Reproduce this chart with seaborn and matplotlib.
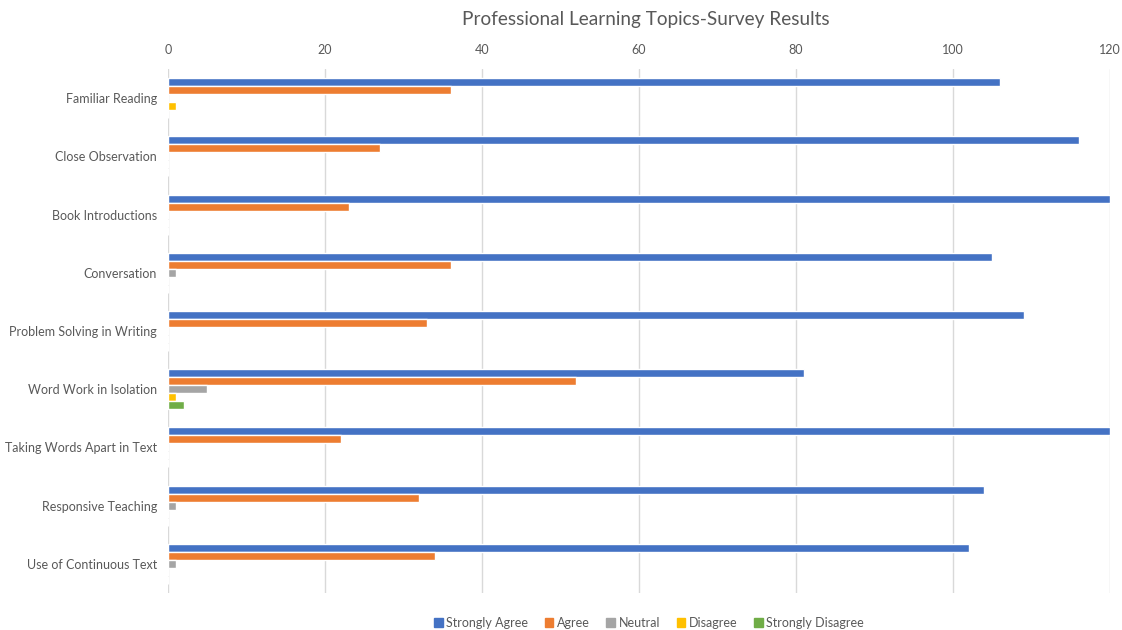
import matplotlib
matplotlib.use("Agg")
import matplotlib.pyplot as plt
import seaborn as sns
import pandas as pd

topics = ["Familiar Reading", "Close Observation", "Book Introductions", "Conversation",
          "Problem Solving in Writing", "Word Work in Isolation", "Taking Words Apart in Text",
          "Responsive Teaching", "Use of Continuous Text"]
strongly_agree = [106, 116, 120, 105, 109, 81, 120, 104, 102]
agree = [36, 27, 23, 36, 33, 52, 22, 32, 34]
neutral = [0, 0, 0, 1, 0, 5, 0, 1, 1]
disagree = [1, 0, 0, 0, 0, 1, 0, 0, 0]
strongly_disagree = [0, 0, 0, 0, 0, 2, 0, 0, 0]

levels = ["Strongly Agree", "Agree", "Neutral", "Disagree", "Strongly Disagree"]
colors = ["#4472C4", "#ED7D31", "#A5A5A5", "#FFC000", "#70AD47"]

rows = []
for lvl, vals in zip(levels, [strongly_agree, agree, neutral, disagree, strongly_disagree]):
    for t, v in zip(topics, vals):
        rows.append({"topic": t, "level": lvl, "count": v})
df = pd.DataFrame(rows)

sns.set_style("white")
plt.rcParams["font.family"] = ["Lato", "DejaVu Sans"]

fig = plt.figure(figsize=(11.22, 6.3), dpi=100)
# plot area: x 168..1110 px, y 69..593 px
ax = fig.add_axes([168 / 1122, 1 - 593 / 630, 942 / 1122, 524 / 630])

sns.barplot(data=df, y="topic", x="count", hue="level", hue_order=levels, order=topics,
            palette=colors, orient="h", width=0.687, saturation=1, ax=ax)

ax.set_xlim(0, 120)
ax.set_xticks(range(0, 121, 20))
ax.xaxis.tick_top()
ax.grid(axis="x", color="#D9D9D9", linewidth=1)
ax.set_axisbelow(True)
for s in ax.spines.values():
    s.set_visible(False)
ax.tick_params(axis="x", length=0, labelsize=9, colors="#595959", pad=9)
ax.tick_params(axis="y", length=0, labelsize=9, colors="#595959", pad=8)
ax.set_xlabel("")
ax.set_ylabel("")

fig.text(646 / 1122, 1 - 20 / 630, "Professional Learning Topics-Survey Results",
         ha="center", va="center", fontsize=13.7, color="#595959")

ax.legend_.remove()
handles = [plt.Rectangle((0, 0), 1, 1, color=c) for c in colors]
fig.legend(handles, levels, loc="center", bbox_to_anchor=(649 / 1122, 1 - 623 / 630), ncol=5,
           frameon=False, fontsize=9, handlelength=0.7, handleheight=0.7, handletextpad=0.3,
           columnspacing=1.3, labelcolor="#595959", borderpad=0)

fig.savefig("out.png", dpi=100)
